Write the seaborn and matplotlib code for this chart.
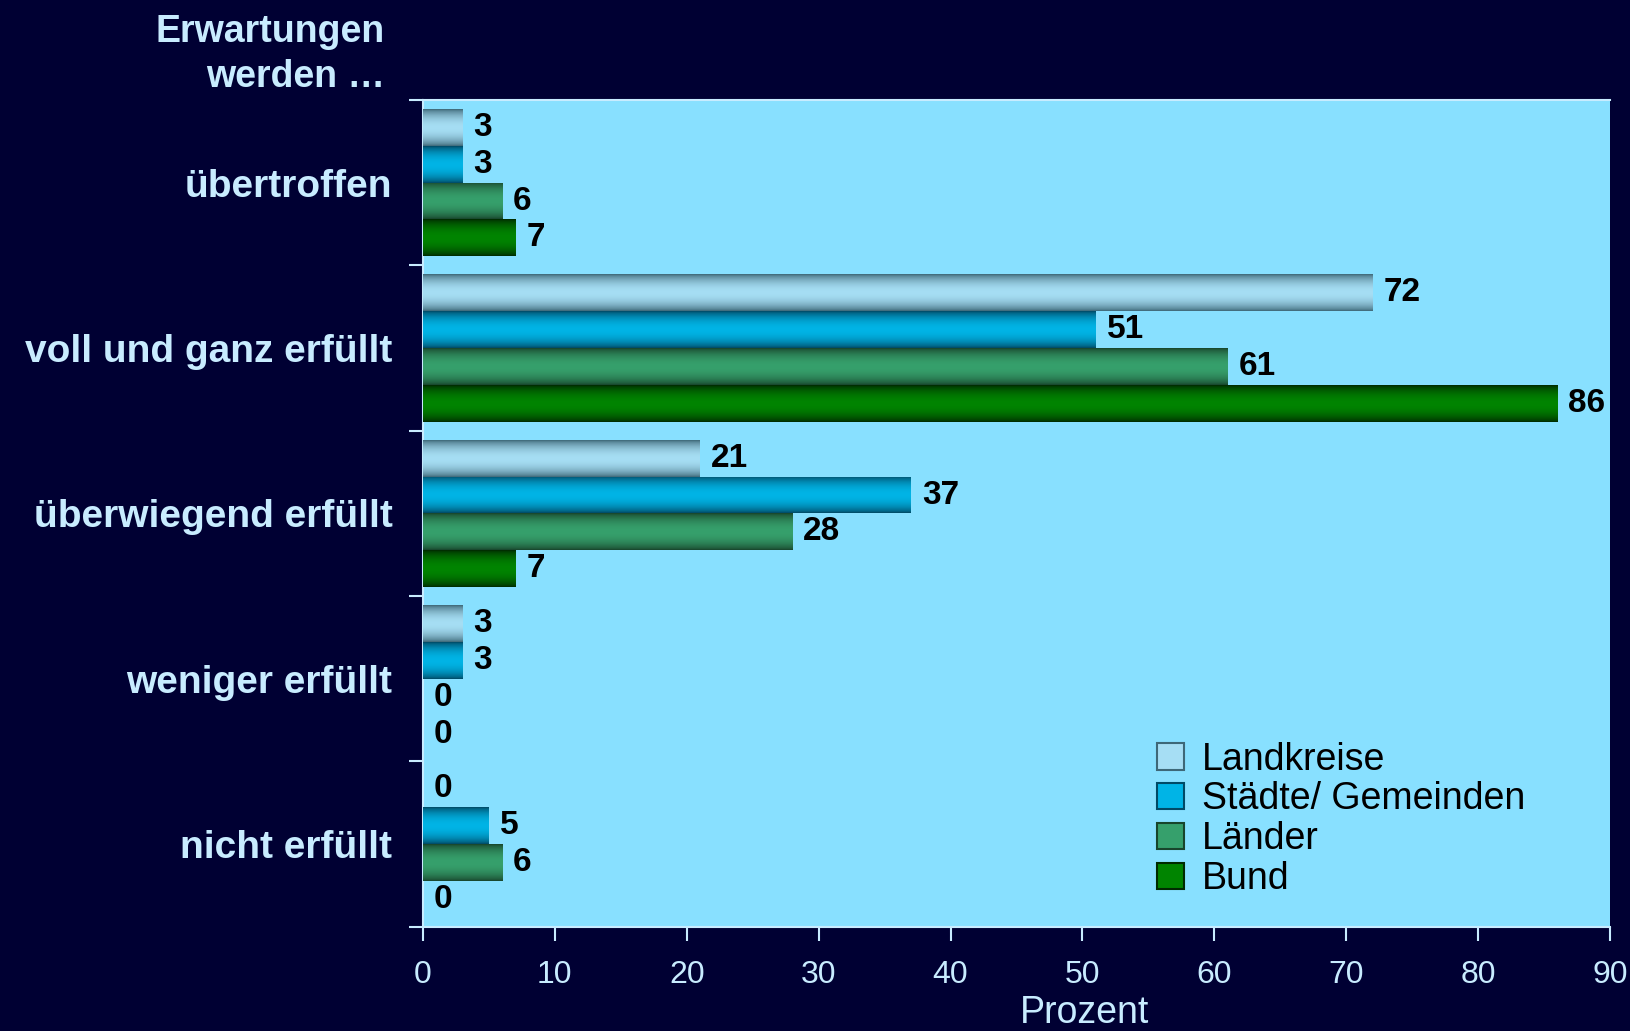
import numpy as np
import pandas as pd
import matplotlib
matplotlib.use("Agg")
import matplotlib.pyplot as plt
import matplotlib.patches as mpatches
import seaborn as sns

kategorien = ["übertroffen", "voll und ganz erfüllt", "überwiegend erfüllt",
              "weniger erfüllt", "nicht erfüllt"]
gruppen = ["Landkreise", "Städte/ Gemeinden", "Länder", "Bund"]
landkreise = [3, 72, 21, 3, 0]
staedte = [3, 51, 37, 3, 5]
laender = [6, 61, 28, 0, 6]
bund = [7, 86, 7, 0, 0]
xticks = [0, 10, 20, 30, 40, 50, 60, 70, 80, 90]

# (dunkler Rand, heller Kern) je Gruppe
farben = {
    "Landkreise": ("#3e6878", "#a6def4"),
    "Städte/ Gemeinden": ("#004a66", "#00b4e6"),
    "Länder": ("#18452c", "#36a06c"),
    "Bund": ("#002a00", "#008400"),
}

bg = "#000033"
axbg = "#88e0ff"
hell = "#c8ecff"

rows = []
for g, vals in zip(gruppen, [landkreise, staedte, laender, bund]):
    for k, v in zip(kategorien, vals):
        rows.append({"Kategorie": k, "Gruppe": g, "Prozent": v})
df = pd.DataFrame(rows)

sns.set_style("white")
plt.rcParams["font.family"] = ["Liberation Sans", "DejaVu Sans"]

fig = plt.figure(figsize=(16.3, 10.31), dpi=100, facecolor=bg)
ax = fig.add_axes([0.2595, 0.101, 0.7282, 0.802])
ax.set_facecolor(axbg)

sns.barplot(data=df, y="Kategorie", x="Prozent", hue="Gruppe", orient="h",
            order=kategorien, hue_order=gruppen, width=0.89,
            palette={g: farben[g][1] for g in gruppen}, ax=ax,
            linewidth=0, legend=False)


def verlauf(dunkel, hell_):
    d = np.array(matplotlib.colors.to_rgb(dunkel))
    h = np.array(matplotlib.colors.to_rgb(hell_))
    s = np.linspace(0, 1, 64)
    t = np.sin(np.pi * s) ** 0.7
    return (d[None, :] * (1 - t[:, None]) + h[None, :] * t[:, None])[:, None, :]


for cont, g in zip(ax.containers, gruppen):
    img = verlauf(*farben[g])
    for p in cont.patches:
        bb = p.get_bbox()
        if bb.width <= 0:
            continue
        im = ax.imshow(img, extent=[bb.x0, bb.x1, bb.y1, bb.y0],
                       aspect="auto", interpolation="bilinear", zorder=3)
        im.set_clip_path(p)
    ax.bar_label(cont, padding=8, fontsize=24, fontweight="bold", color="black")

ax.set_xlim(0, 90)
ax.set_ylim(len(kategorien) - 0.5, -0.5)

for s in ax.spines.values():
    s.set_color(hell)
    s.set_linewidth(1.5)
ax.spines["right"].set_visible(False)

ax.set_xticks(xticks)
ax.set_xticklabels([str(x) for x in xticks])
ax.tick_params(axis="x", colors=hell, labelsize=23, length=10, width=1.5,
               direction="out", pad=14, bottom=True)
ax.set_yticks(range(len(kategorien)))
ax.set_yticklabels(kategorien, fontweight="bold")
ax.set_yticks(np.arange(-0.5, len(kategorien)), minor=True)
ax.tick_params(axis="y", which="major", length=0, colors=hell, labelsize=28, pad=22)
ax.tick_params(axis="y", which="minor", length=10, width=1.5, color=hell, left=True)

ax.set_ylabel("")
ax.set_xlabel("Prozent", color=hell, fontsize=27)
ax.xaxis.set_label_coords(0.557, -0.083)

fig.text(0.236, 0.986, "Erwartungen\nwerden …", ha="right", va="top",
         color=hell, fontsize=27, fontweight="bold", linespacing=1.3)

handles = [mpatches.Patch(facecolor=farben[g][1], edgecolor=farben[g][0],
                          linewidth=1.5, label=g) for g in gruppen]
leg = ax.legend(handles=handles, loc="lower left", bbox_to_anchor=(0.606, 0.018),
                frameon=False, fontsize=27, handlelength=0.7, handleheight=0.7,
                handletextpad=0.5, labelspacing=0.1, borderaxespad=0,
                labelcolor="black")

fig.savefig("out.png", dpi=100, facecolor=bg)
